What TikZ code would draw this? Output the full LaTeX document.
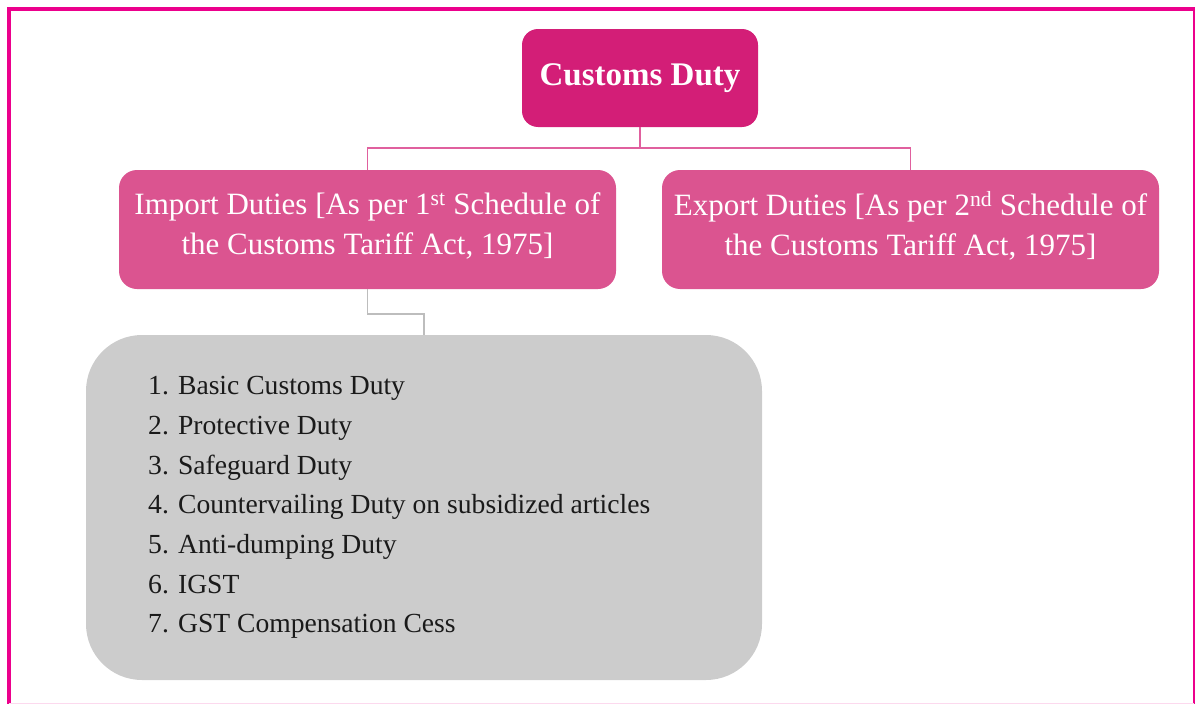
\documentclass[tikz,border=0pt]{standalone}
\usepackage{fontspec}
\setmainfont{Liberation Serif}
\definecolor{framepink}{HTML}{EC008C}
\definecolor{darkpink}{HTML}{D31E77}
\definecolor{midpink}{HTML}{DB5490}
\definecolor{linkpink}{HTML}{E0609E}
\definecolor{boxgray}{HTML}{CCCCCC}
\definecolor{linkgray}{HTML}{BDBDBD}
\definecolor{listtext}{HTML}{1A1A1A}
\begin{document}
\begin{tikzpicture}[x=1pt,y=-1pt,
  topbox/.style={fill=darkpink, rounded corners=16pt, text=white,
    font=\fontsize{33}{40}\selectfont\bfseries, inner sep=0pt},
  subbox/.style={fill=midpink, rounded corners=18pt, inner sep=0pt,
    minimum width=497pt, minimum height=119pt},
  subtext/.style={text=white, font=\fontsize{31}{40}\selectfont,
    align=center, inner sep=0pt},
  listbox/.style={fill=boxgray, rounded corners=56pt, inner sep=0pt,
    minimum width=676pt, minimum height=345pt},
  listtextstyle/.style={text=listtext, inner sep=0pt, align=left,
    font=\fontsize{27.6}{39.7}\selectfont},
  pinklink/.style={draw=linkpink, line width=1.6pt},
  graylink/.style={draw=linkgray, line width=1.6pt},
  framestyle/.style={draw=framepink}
]
\useasboundingbox (0,0) rectangle (1195,704);
% frame
\draw[framestyle, line width=3.5pt] (9,704) -- (9,9) -- (1195,9);
\draw[framestyle, line width=2pt] (1194,9) -- (1194,704);
\draw[draw=framepink!15, line width=1pt] (9,703.5) -- (1194,703.5);

% boxes
\node[topbox, minimum width=236pt, minimum height=98pt] (cd) at (640,78) {Customs Duty};
\node[subbox] (imp) at (367.5,229.5) {};
\node[subtext] (imptext) at ([yshift=4pt]imp.center) {Import Duties [As per 1\textsuperscript{st} Schedule of\\the Customs Tariff Act, 1975]};
\node[subbox] (exp) at (910.5,229.5) {};
\node[subtext] (exptext) at ([yshift=4pt]exp.center) {Export Duties [As per 2\textsuperscript{nd} Schedule of\\the Customs Tariff Act, 1975]};
\node[listbox] (lst) at (424,507.5) {};
\node[listtextstyle, anchor=west] (items) at (148,507.5) {1. Basic Customs Duty\\
2. Protective Duty\\
3. Safeguard Duty\\
4. Countervailing Duty on subsidized articles\\
5. Anti-dumping Duty\\
6. IGST\\
7. GST Compensation Cess};

% connectors
\draw[pinklink] (cd.south) -- ++(0,21) -| (imp.north);
\draw[pinklink] (cd.south) ++(0,21) -| (exp.north);
\draw[graylink] (imp.south) -- ++(0,25) -| (lst.north);
\end{tikzpicture}
\end{document}
